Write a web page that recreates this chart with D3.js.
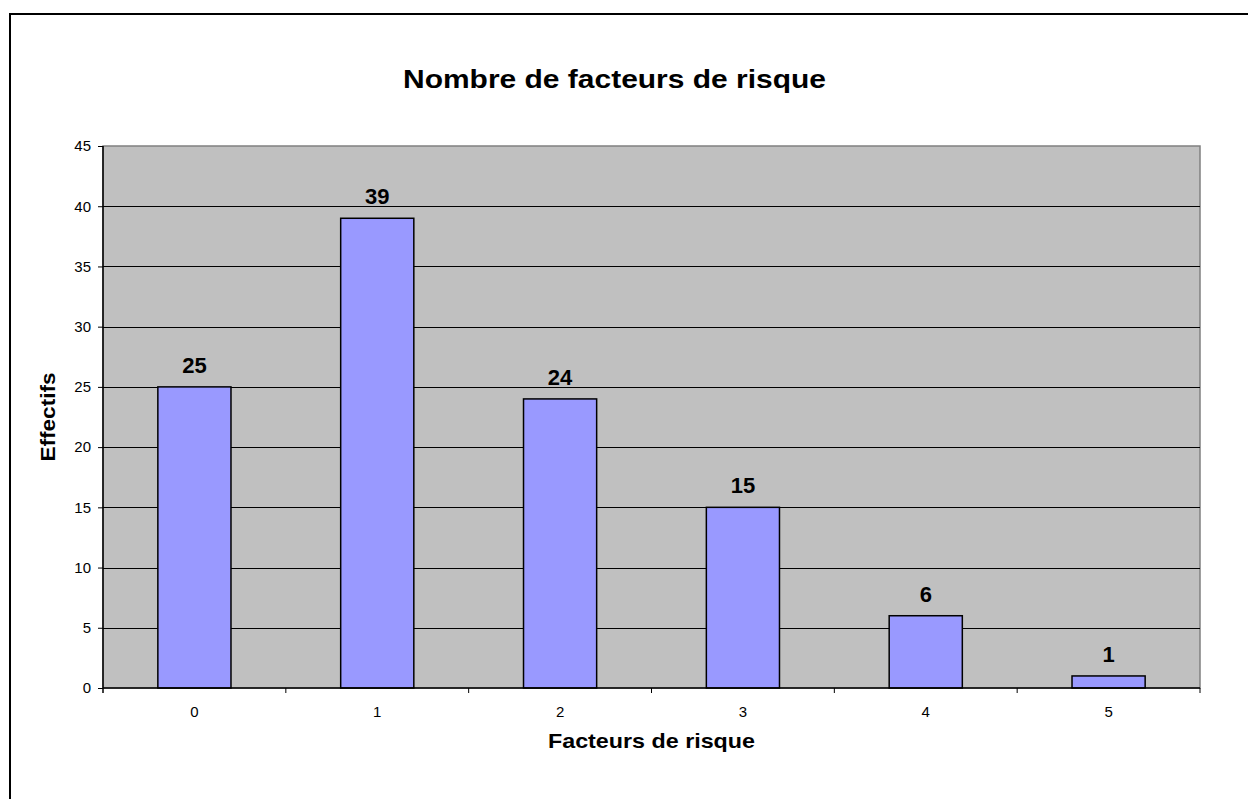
<!DOCTYPE html>
<html>
<head>
<meta charset="utf-8">
<script src="https://cdn.jsdelivr.net/npm/d3@7"></script>
<style>
  body { margin: 0; background: #fff; }
  text { font-family: "Liberation Sans", Arial, sans-serif; }
</style>
</head>
<body>
<svg id="chart" width="1248" height="799"></svg>
<script>
var categories = ["0", "1", "2", "3", "4", "5"];
var values = [25, 39, 24, 15, 6, 1];
var yTicks = [0, 5, 10, 15, 20, 25, 30, 35, 40, 45];

var svg = d3.select("#chart");
var plotLeft = 103, plotRight = 1200, plotTop = 146, plotBottom = 688;

// outer frame (runs off the page right and bottom)
svg.append("rect")
  .attr("x", 10).attr("y", 14)
  .attr("width", 1300).attr("height", 900)
  .attr("fill", "#fff").attr("stroke", "#000").attr("stroke-width", 2);

var x = d3.scaleBand().domain(categories).range([plotLeft, plotRight]).padding(0);
var y = d3.scaleLinear().domain([0, 45]).range([plotBottom, plotTop]);

// plot background
svg.append("rect")
  .attr("x", plotLeft).attr("y", plotTop)
  .attr("width", plotRight - plotLeft).attr("height", plotBottom - plotTop)
  .attr("fill", "#c0c0c0").attr("stroke", "#808080").attr("stroke-width", 1.5);

// gridlines
svg.append("g")
  .selectAll("line")
  .data(yTicks.filter(d => d > 0 && d < 45))
  .enter()
  .append("line")
  .attr("x1", plotLeft).attr("x2", plotRight)
  .attr("y1", d => Math.round(y(d)) + 0.5).attr("y2", d => Math.round(y(d)) + 0.5)
  .attr("stroke", "#000").attr("stroke-width", 1);

// bars
var barW = x.bandwidth() * 0.4;
svg.append("g")
  .selectAll("rect")
  .data(values)
  .enter()
  .append("rect")
  .attr("x", (d, i) => x(categories[i]) + (x.bandwidth() - barW) / 2)
  .attr("y", d => y(d))
  .attr("width", barW)
  .attr("height", d => plotBottom - y(d))
  .attr("fill", "#9999ff")
  .attr("stroke", "#000")
  .attr("stroke-width", 1.5);

// value labels
svg.append("g")
  .selectAll("text")
  .data(values)
  .enter()
  .append("text")
  .attr("x", (d, i) => x(categories[i]) + x.bandwidth() / 2)
  .attr("y", d => y(d) - 14)
  .attr("text-anchor", "middle")
  .style("font-size", "22px")
  .style("font-weight", "bold")
  .text(d => d);

// y axis
var yAxis = d3.axisLeft(y).tickValues(yTicks).tickSize(5).tickPadding(7);
var gy = svg.append("g").attr("transform", "translate(" + plotLeft + ",0)").call(yAxis);
gy.select(".domain").attr("stroke", "#000").attr("stroke-width", 1.5).attr("d", "M0," + (plotBottom + 5) + "V" + plotTop);
gy.selectAll(".tick line").attr("stroke", "#000");
gy.selectAll(".tick text").style("font-size", "15px").attr("fill", "#000");

// x axis: ticks at band boundaries
var xAxis = d3.axisBottom(x).tickSize(0).tickPadding(18);
var gx = svg.append("g").attr("transform", "translate(0," + plotBottom + ")").call(xAxis);
gx.select(".domain").attr("stroke", "#000").attr("stroke-width", 1.5).attr("d", "M" + plotLeft + ",0H" + plotRight);
gx.selectAll(".tick text").style("font-size", "15px").attr("fill", "#000");
gx.append("g")
  .selectAll("line")
  .data(categories.slice(1).concat(["end"]))
  .enter()
  .append("line")
  .attr("x1", d => d === "end" ? plotRight : x(d))
  .attr("x2", d => d === "end" ? plotRight : x(d))
  .attr("y1", 0).attr("y2", 5)
  .attr("stroke", "#000");

// titles
svg.append("text")
  .attr("x", 614.5).attr("y", 88)
  .attr("text-anchor", "middle")
  .style("font-size", "26px")
  .style("font-weight", "bold")
  .attr("textLength", 423)
  .attr("lengthAdjust", "spacingAndGlyphs")
  .text("Nombre de facteurs de risque");

svg.append("text")
  .attr("x", (plotLeft + plotRight) / 2).attr("y", 748)
  .attr("text-anchor", "middle")
  .style("font-size", "21px")
  .style("font-weight", "bold")
  .attr("textLength", 207)
  .attr("lengthAdjust", "spacingAndGlyphs")
  .text("Facteurs de risque");

svg.append("text")
  .attr("transform", "translate(55," + (plotTop + plotBottom) / 2 + ") rotate(-90)")
  .attr("text-anchor", "middle")
  .style("font-size", "21px")
  .style("font-weight", "bold")
  .attr("textLength", 89)
  .attr("lengthAdjust", "spacingAndGlyphs")
  .text("Effectifs");
</script>
</body>
</html>
